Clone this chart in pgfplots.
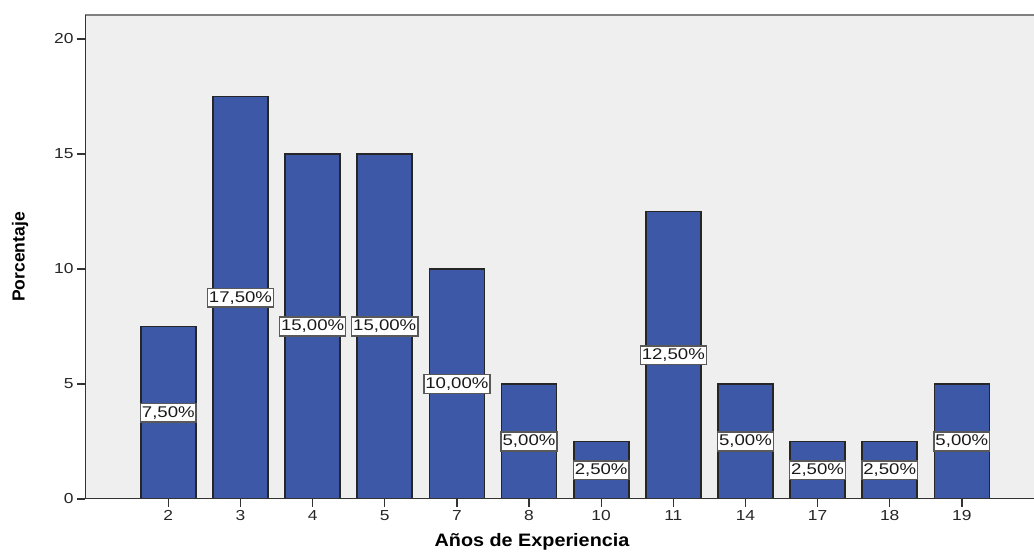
\documentclass[border=0pt]{standalone}
\usepackage{pgfplots}
\pgfplotsset{compat=1.18}
\usepackage{fontspec}
\setmainfont{Liberation Sans}
\newfontfamily\widefont[FakeStretch=1.2]{Liberation Sans}
\newfontfamily\titlefont[FakeStretch=1.1]{Liberation Sans}
\definecolor{barblue}{RGB}{60,88,167}
\definecolor{panel}{RGB}{239,239,239}
\definecolor{frametop}{RGB}{128,128,128}

\begin{document}
\begin{tikzpicture}[x=1pt,y=1pt]
\useasboundingbox (0,0) rectangle (1034,553);
\begin{axis}[
  at={(85pt,54pt)}, anchor=south west,
  scale only axis, width=949pt, height=484pt,
  xmin=-1.155, xmax=12, ymin=0, ymax=21.04,
  xtick={0,...,11},
  xticklabels={2,3,4,5,7,8,10,11,14,17,18,19},
  ytick={0,5,10,15,20},
  tick pos=left, tick align=outside,
  major tick length=8pt,
  tick style={black!80, line width=1.3pt},
  axis line style={draw=none},
  axis background/.style={fill=panel},
  /pgf/number format/assume math mode=true,
  tick label style={font=\widefont\fontsize{14.5}{16}\selectfont, black!85},
  ybar, bar width=55pt,
]
\addplot[
  fill=barblue, draw=black!85, line width=1.7pt,
  visualization depends on={rawy \as \rawy},
  nodes near coords={\pgfmathprintnumber[fixed, fixed zerofill, precision=2, use comma]{\pgfplotspointmeta}\%},
  every node near coord/.append style={
    anchor=center, fill=white, draw=black!65, line width=1.5pt,
    inner xsep=1.5pt, inner ysep=3pt,
    font=\widefont\fontsize{15.5}{17}\selectfont, text=black!90,
    shift={(axis direction cs:0,-\rawy/2)}},
] coordinates {
  (0,7.5) (1,17.5) (2,15) (3,15) (4,10) (5,5)
  (6,2.5) (7,12.5) (8,5) (9,2.5) (10,2.5) (11,5)
};
\draw[frametop, line width=2.2pt] (rel axis cs:0,1) -- (rel axis cs:1,1);
\draw[black!80, line width=1.5pt] (rel axis cs:0,0) -- (rel axis cs:0,1);
\draw[black!80, line width=1.5pt] (rel axis cs:0,0) -- (rel axis cs:1,0);
\end{axis}
\node[font=\titlefont\bfseries\fontsize{18}{20}\selectfont] at (532,11) {Años de Experiencia};
\node[font=\bfseries\fontsize{17.5}{19}\selectfont, rotate=90] at (20,296) {Porcentaje};
\end{tikzpicture}
\end{document}
